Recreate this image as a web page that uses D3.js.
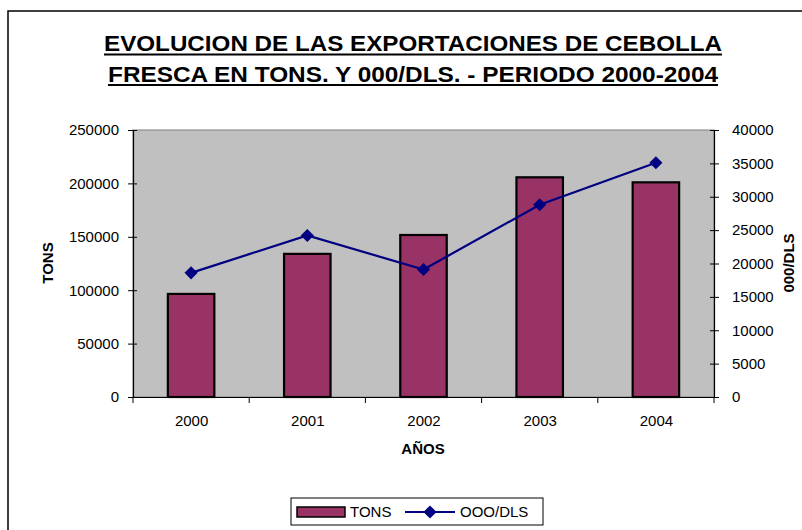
<!DOCTYPE html>
<html><head><meta charset="utf-8">
<script src="https://cdn.jsdelivr.net/npm/d3@7"></script>
<style>body{margin:0;background:#fff}svg{display:block;font-family:"Liberation Sans",Arial,sans-serif}</style>
</head><body>
<svg id="c" width="802" height="530"></svg>
<script>
const years = ["2000","2001","2002","2003","2004"];
const tons = [96500, 134000, 151700, 205700, 201000];
const dls = [18600, 24200, 19100, 28800, 35100];
const leftTicks = [0,50000,100000,150000,200000,250000];
const rightTicks = [0,5000,10000,15000,20000,25000,30000,35000,40000];
const titleLines = ["EVOLUCION DE LAS EXPORTACIONES DE CEBOLLA","FRESCA EN TONS. Y 000/DLS. - PERIODO 2000-2004"];

const FF = "Liberation Sans, Arial, sans-serif";
const svg = d3.select("#c");
const L=133, R=714, T=130, B=397;
svg.append("rect").attr("x",8).attr("y",11).attr("width",800).attr("height",530).attr("fill","#fff").attr("stroke","#000").attr("stroke-width",1.5);

const x = d3.scaleBand().domain(years).range([L,R]).paddingInner(0.6).paddingOuter(0.3);
const xc = d3.scalePoint().domain(years).range([L,R]).padding(0.5);
const yL = d3.scaleLinear().domain([0,250000]).range([B,T]);
const yR = d3.scaleLinear().domain([0,40000]).range([B,T]);

svg.append("rect").attr("x",L).attr("y",T).attr("width",R-L).attr("height",B-T).attr("fill","#C0C0C0").attr("stroke","#808080").attr("stroke-width",1);

svg.selectAll("rect.bar").data(tons).join("rect").attr("class","bar")
  .attr("x",(d,i)=>x(years[i])).attr("width",x.bandwidth())
  .attr("y",d=>yL(d)).attr("height",d=>B-yL(d))
  .attr("fill","#993366").attr("stroke","#000").attr("stroke-width",2.2);

const line = d3.line().x((d,i)=>xc(years[i])).y(d=>yR(d));
svg.append("path").datum(dls).attr("d",line).attr("fill","none").attr("stroke","#000080").attr("stroke-width",2.2);
const diamond = d3.symbol().type(d3.symbolDiamond2).size(110);
svg.selectAll("path.mk").data(dls).join("path").attr("class","mk")
  .attr("transform",(d,i)=>`translate(${xc(years[i])},${yR(d)})`).attr("d",diamond).attr("fill","#000080");

// axes
const axL = svg.append("g").attr("transform",`translate(${L},0)`)
  .call(d3.axisLeft(yL).tickValues(leftTicks).tickSize(5).tickPadding(9).tickFormat(d3.format("d")));
const axR = svg.append("g").attr("transform",`translate(${R},0)`)
  .call(d3.axisRight(yR).tickValues(rightTicks).tickSize(5).tickPadding(13).tickFormat(d3.format("d")));
const axB = svg.append("g").attr("transform",`translate(0,${B})`)
  .call(d3.axisBottom(xc).tickSize(0).tickPadding(18));
[axL,axR,axB].forEach(g=>{
  g.attr("font-size",15).attr("font-family",FF);
  g.selectAll("path.domain").attr("stroke","#000").attr("stroke-width",1.2);
  g.selectAll("line").attr("stroke","#000");
  g.selectAll("text").attr("fill","#000");
});
axL.selectAll(".tick line").attr("x1",4);
axR.selectAll(".tick line").attr("x1",-4);
// category separator ticks on x axis
const seps = years.slice(0,-1).map((y,i)=>(xc(y)+xc(years[i+1]))/2).concat([L,R]);
svg.append("g").selectAll("line").data(seps).join("line")
  .attr("x1",d=>d).attr("x2",d=>d).attr("y1",B).attr("y2",B+6).attr("stroke","#000");

// axis titles
svg.append("text").attr("transform","translate(53,263) rotate(-90)").attr("text-anchor","middle")
  .attr("font-size",15).attr("font-weight","bold").text("TONS");
svg.append("text").attr("transform","translate(794,263) rotate(-90)").attr("text-anchor","middle")
  .attr("font-size",15).attr("font-weight","bold").text("000/DLS");
svg.append("text").attr("x",423).attr("y",454).attr("text-anchor","middle")
  .attr("font-size",15).attr("font-weight","bold").text("AÑOS");

// title
const tSpecs = [{y:51, x1:104, x2:722},{y:81.5, x1:108, x2:718}];
titleLines.forEach((t,i)=>{
  const s = tSpecs[i];
  svg.append("text").attr("x",s.x1).attr("y",s.y)
    .attr("font-size",22).attr("font-weight","bold")
    .attr("textLength",s.x2-s.x1).attr("lengthAdjust","spacingAndGlyphs").text(t);
  svg.append("line").attr("x1",s.x1).attr("x2",s.x2).attr("y1",s.y+3.5).attr("y2",s.y+3.5)
    .attr("stroke","#000").attr("stroke-width",2);
});

// legend
const lg = svg.append("g");
lg.append("rect").attr("x",291).attr("y",498).attr("width",252).attr("height",27).attr("fill","#fff").attr("stroke","#000");
lg.append("rect").attr("x",297).attr("y",507).attr("width",48).attr("height",10).attr("fill","#993366").attr("stroke","#000").attr("stroke-width",1.5);
lg.append("text").attr("x",350).attr("y",517).attr("font-size",15).text("TONS");
lg.append("line").attr("x1",405).attr("x2",455).attr("y1",512).attr("y2",512).attr("stroke","#000080").attr("stroke-width",2);
lg.append("path").attr("transform","translate(430,512)").attr("d",diamond).attr("fill","#000080");
lg.append("text").attr("x",460).attr("y",517).attr("font-size",15).text("OOO/DLS");
</script>
</body></html>
